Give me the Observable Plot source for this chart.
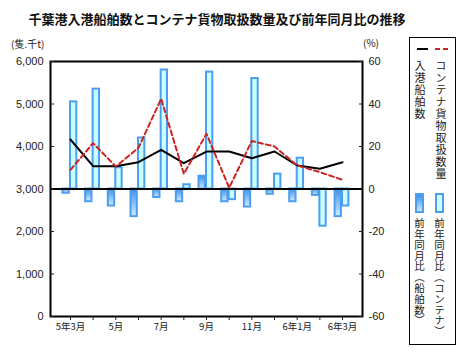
<!DOCTYPE html>
<html><head><meta charset="utf-8">
<script src="https://cdn.jsdelivr.net/npm/d3@7"></script>
<script src="https://cdn.jsdelivr.net/npm/@observablehq/plot@0.6"></script>
<style>
body{margin:0;background:#fff;}
#wrap{position:relative;width:467px;height:356px;overflow:hidden;font-family:"Noto Sans CJK JP",sans-serif;color:#222;}
#chart{position:absolute;left:0;top:0;}
.abs{position:absolute;white-space:nowrap;}
#title{left:0;width:434px;top:12px;text-align:center;font-weight:bold;font-size:13px;line-height:14px;color:#111;}
.unit{font-size:10px;line-height:10px;}
#legend{position:absolute;left:409px;top:37px;width:45px;height:306px;border:1px solid #000;background:#fff;}
.vt{position:absolute;writing-mode:vertical-rl;font-size:11px;line-height:11px;letter-spacing:1px;color:#222;}
.vt2{position:absolute;writing-mode:vertical-rl;font-size:10.5px;line-height:11px;letter-spacing:0.3px;color:#222;}
.sw{position:absolute;width:5px;height:16px;border:2px solid #4a9ff0;}
</style></head>
<body>
<div id="wrap">
  <div id="chart"></div>
  <div id="title" class="abs">千葉港入港船舶数とコンテナ貨物取扱数量及び前年同月比の推移</div>
  <div class="abs unit" style="left:11px;top:39px;">(隻.千t)</div>
  <div class="abs unit" style="left:363px;top:38px;">(%)</div>
  <div id="legend">
    <svg style="position:absolute;left:0;top:0;" width="45" height="20">
      <line x1="7" y1="11" x2="18" y2="11" stroke="#000" stroke-width="2"/>
      <line x1="25" y1="11" x2="39" y2="11" stroke="#cc2222" stroke-width="2" stroke-dasharray="5,3"/>
    </svg>
    <div class="vt" style="left:4px;top:22px;">入港船舶数</div>
    <div class="vt" style="left:25px;top:22px;">コンテナ貨物取扱数量</div>
    <div class="sw" style="left:5px;top:155px;background:linear-gradient(#3a8fe8,#cfe6ff);"></div>
    <div class="sw" style="left:25px;top:155px;background:#ccffff;"></div>
    <div class="vt2" style="left:4px;top:180px;">前年同月比（船舶数）</div>
    <div class="vt2" style="left:24px;top:180px;">前年同月比（コンテナ）</div>
  </div>
</div>
<script>
const months = ["5年3月","4月","5月","6月","7月","8月","9月","10月","11月","12月","6年1月","2月","6年3月"];
const xTickLabels = ["5年3月","","5月","","7月","","9月","","11月","","6年1月","","6年3月"];
const ships = [4165, 3537, 3537, 3631, 3922, 3608, 3882, 3882, 3725, 3882, 3553, 3475, 3631];
const containers = [3451, 4078, 3529, 3969, 5122, 3357, 4298, 3030, 4130, 4000, 3553, 3396, 3216];
const shipPct = [-2, -6, -8, -13, -4, -6, 6, -6, -8.5, -2.5, -6, -3, -13];
const containerPct = [41, 47, 10, 24, 56, 2, 55, -5, 52, 7, 14.5, -17.5, -8];
const leftTicks = [0, 1000, 2000, 3000, 4000, 5000, 6000];
const rightTicks = [-60, -40, -20, 0, 20, 40, 60];

const pctToY = p => 3000 + p * 50;
const yToPct = y => (y - 3000) / 50;
const data = months.map((m, i) => ({i, m, ship: ships[i], cont: containers[i], sp: pctToY(shipPct[i]), cp: pctToY(containerPct[i])}));
const xIdx = months.map((_, i) => i);

const svg = Plot.plot({
  width: 467, height: 356,
  marginTop: 61, marginBottom: 40, marginLeft: 50, marginRight: 105,
  style: {fontFamily: '"Liberation Sans", Arial, sans-serif', fontSize: "11px", color: "#222", background: "transparent"},
  x: {type: "linear", domain: [-0.88, 12.88]},
  y: {domain: [0, 6000]},
  marks: [
    Plot.rect(data, {x1: d => d.i - 0.33, x2: d => d.i - 0.05, y1: () => 3000, y2: "sp", fill: "url(#shipGrad)", stroke: "#4a9ff0", strokeWidth: 2}),
    Plot.rect(data, {x1: d => d.i, x2: d => d.i + 0.28, y1: () => 3000, y2: "cp", fill: "#ccffff", stroke: "#4a9ff0", strokeWidth: 2}),
    Plot.ruleY([3000], {stroke: "#000", strokeWidth: 2}),
    Plot.line(data, {x: "i", y: "ship", stroke: "#000", strokeWidth: 2}),
    Plot.line(data, {x: "i", y: "cont", stroke: "#cc2222", strokeWidth: 2, strokeDasharray: "5,3"}),
    Plot.frame({stroke: "#000", strokeWidth: 2}),
    Plot.axisX(xIdx, {tickFormat: i => xTickLabels[i], tickSize: 4, tickPadding: 3, fontFamily: '"Noto Sans CJK JP", sans-serif', fontSize: 9.5, label: null}),
    Plot.axisY(leftTicks, {anchor: "left", tickFormat: d3.format(","), tickSize: -4, tickPadding: 11, label: null}),
    Plot.axisY(rightTicks.map(pctToY), {anchor: "right", tickFormat: y => String(Math.round(yToPct(y))), tickSize: -4, tickPadding: 10, label: null})
  ]
});
const defs = d3.select(svg).insert("defs", ":first-child");
const g = defs.append("linearGradient").attr("id", "shipGrad").attr("x1", 0).attr("y1", 0).attr("x2", 0).attr("y2", 1);
g.append("stop").attr("offset", "0%").attr("stop-color", "#3a8fe8");
g.append("stop").attr("offset", "100%").attr("stop-color", "#d6ebff");
document.getElementById("chart").appendChild(svg);
</script>
</body></html>
